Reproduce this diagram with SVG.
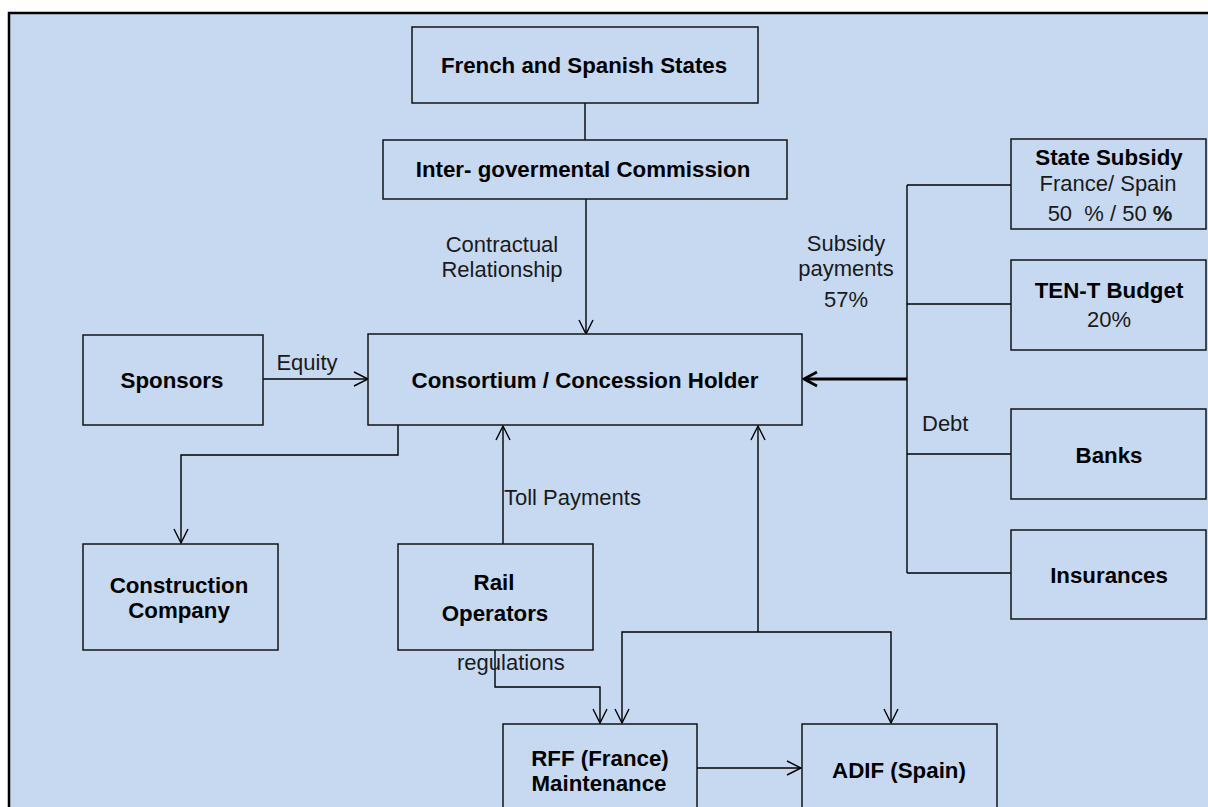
<svg xmlns="http://www.w3.org/2000/svg" width="1208" height="807" viewBox="0 0 1208 807">
  <style>
    .box { fill: #C6D9F1; stroke: #141414; stroke-width: 1.5; }
    .bold { font-family: "Liberation Sans", Arial, sans-serif; font-weight: bold; font-size: 22.3px; fill: #000; text-anchor: middle; }
    .reg { font-family: "Liberation Sans", Arial, sans-serif; font-size: 22px; fill: #1a1a1a; }
    .mid { text-anchor: middle; }
    .wire { fill: none; stroke: #000; stroke-width: 1.4; }
    .thick { fill: none; stroke: #000; stroke-width: 3; }
  </style>
  <defs>
    <marker id="open" markerUnits="userSpaceOnUse" viewBox="-16 -9 18 18" refX="0" refY="0" markerWidth="18" markerHeight="18" orient="auto">
      <path d="M-14,-7 L0,0 L-14,7" fill="none" stroke="#000" stroke-width="1.4"/>
    </marker>
    <marker id="openBold" markerUnits="userSpaceOnUse" viewBox="-16 -9 18 18" refX="0" refY="0" markerWidth="18" markerHeight="18" orient="auto">
      <path d="M-13,-7 L0,0 L-13,7" fill="none" stroke="#000" stroke-width="2.6"/>
    </marker>
  </defs>

  <!-- page background and frame -->
  <rect x="0" y="0" width="1208" height="807" fill="#FFFFFF"/>
  <rect x="9" y="13" width="1220" height="820" fill="#C6D9F1" stroke="#000" stroke-width="2.5"/>

  <!-- connectors -->
  <g id="connectors">
    <line class="wire" x1="585" y1="103" x2="585" y2="140"/>
    <line class="wire" x1="586" y1="199" x2="586" y2="334" marker-end="url(#open)"/>
    <line class="wire" x1="263" y1="379" x2="368" y2="379" marker-end="url(#open)"/>
    <polyline class="wire" points="398,425 398,455 181,455 181,543" marker-end="url(#open)"/>
    <line class="wire" x1="503" y1="544" x2="503" y2="426" marker-end="url(#open)"/>
    <line class="wire" x1="758" y1="632" x2="758" y2="426" marker-end="url(#open)"/>
    <polyline class="wire" points="758,632 622,632 622,723" marker-end="url(#open)"/>
    <polyline class="wire" points="758,632 891,632 891,723" marker-end="url(#open)"/>
    <polyline class="wire" points="495,650 495,687 600,687 600,723" marker-end="url(#open)"/>
    <line class="wire" x1="697" y1="768" x2="801" y2="768" marker-end="url(#open)"/>
    <!-- funding bus on the right -->
    <line class="wire" x1="907" y1="185" x2="907" y2="573"/>
    <line class="wire" x1="907" y1="185" x2="1011" y2="185"/>
    <line class="wire" x1="907" y1="304" x2="1011" y2="304"/>
    <line class="wire" x1="907" y1="454" x2="1011" y2="454"/>
    <line class="wire" x1="907" y1="573" x2="1011" y2="573"/>
    <line class="thick" x1="907" y1="379" x2="804" y2="379" marker-end="url(#openBold)"/>
  </g>

  <!-- connector labels -->
  <g id="labels">
    <text class="reg mid" x="502" y="252">Contractual</text>
    <text class="reg mid" x="502" y="277">Relationship</text>
    <text class="reg mid" x="307" y="370">Equity</text>
    <text class="reg" x="504" y="505">Toll Payments</text>
    <text class="reg" x="457" y="670">regulations</text>
    <text class="reg mid" x="846" y="251">Subsidy</text>
    <text class="reg mid" x="846" y="276">payments</text>
    <text class="reg mid" x="846" y="307">57%</text>
    <text class="reg" x="922" y="431">Debt</text>
  </g>

  <g id="french-spanish-states">
    <rect class="box" x="412" y="27" width="346" height="76"/>
    <text class="bold" x="584" y="73">French and Spanish States</text>
  </g>

  <g id="intergovernmental-commission">
    <rect class="box" x="383" y="140" width="404" height="59"/>
    <text class="bold" x="583" y="177">Inter- govermental Commission</text>
  </g>

  <g id="consortium">
    <rect class="box" x="368" y="334" width="434" height="91"/>
    <text class="bold" x="585" y="388">Consortium / Concession Holder</text>
  </g>

  <g id="sponsors">
    <rect class="box" x="83" y="335" width="180" height="90"/>
    <text class="bold" x="172" y="388">Sponsors</text>
  </g>

  <g id="construction-company">
    <rect class="box" x="83" y="544" width="195" height="106"/>
    <text class="bold" x="179" y="593">Construction</text>
    <text class="bold" x="179" y="618">Company</text>
  </g>

  <g id="rail-operators">
    <rect class="box" x="398" y="544" width="195" height="106"/>
    <text class="bold" x="494" y="590">Rail</text>
    <text class="bold" x="495" y="621">Operators</text>
  </g>

  <g id="rff">
    <rect class="box" x="503" y="724" width="194" height="100"/>
    <text class="bold" x="600" y="766">RFF (France)</text>
    <text class="bold" x="599" y="791">Maintenance</text>
  </g>

  <g id="adif">
    <rect class="box" x="802" y="724" width="195" height="100"/>
    <text class="bold" x="899" y="778">ADIF (Spain)</text>
  </g>

  <g id="state-subsidy">
    <rect class="box" x="1011" y="139" width="195" height="90"/>
    <text class="bold" x="1109" y="165">State Subsidy</text>
    <text class="reg mid" x="1108" y="191">France/ Spain</text>
    <text class="reg mid" x="1110" y="221" xml:space="preserve">50  % / 50 <tspan font-weight="bold">%</tspan></text>
  </g>

  <g id="ten-t-budget">
    <rect class="box" x="1011" y="260" width="195" height="90"/>
    <text class="bold" x="1109" y="298">TEN-T Budget</text>
    <text class="reg mid" x="1109" y="327">20%</text>
  </g>

  <g id="banks">
    <rect class="box" x="1011" y="409" width="195" height="90"/>
    <text class="bold" x="1109" y="463">Banks</text>
  </g>

  <g id="insurances">
    <rect class="box" x="1011" y="530" width="195" height="89"/>
    <text class="bold" x="1109" y="583">Insurances</text>
  </g>
</svg>
